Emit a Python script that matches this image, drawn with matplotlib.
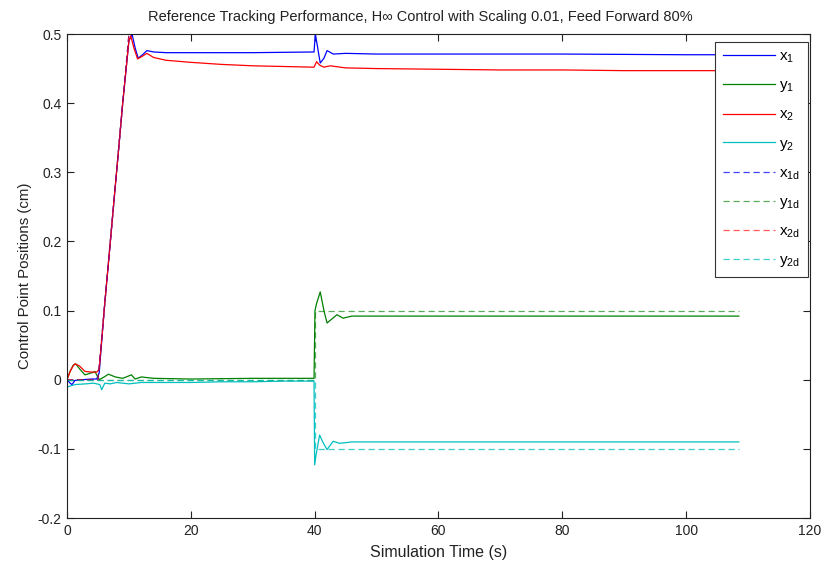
import matplotlib
matplotlib.use("Agg")
import matplotlib.pyplot as plt
from matplotlib.ticker import FuncFormatter

plt.rcParams['font.family'] = ['Liberation Sans', 'DejaVu Sans']
plt.rcParams['mathtext.fontset'] = 'custom'
plt.rcParams['mathtext.rm'] = 'Liberation Sans'

# Reference (desired) trajectories
t_xd = [0, 5, 10, 108.5]
x1d = [0, 0, 0.5, 0.5]
x2d = [0, 0, 0.5, 0.5]
t_yd = [0, 40, 40, 108.5]
y1d = [0, 0, 0.1, 0.1]
y2d = [0, 0, -0.1, -0.1]

# Measured control point positions
t_x1 = [0, 0.5, 0.8, 1.3, 2.5, 4, 4.8, 5.2, 6, 7, 8, 9, 10, 10.5, 11, 11.5,
        12.2, 12.9, 14, 16, 20, 30, 39.9, 40.1, 40.3, 40.9, 41.5, 42, 43, 45,
        50, 60, 80, 100, 108.5]
x1 = [0, -0.005, -0.007, -0.001, 0.0, 0.001, 0.001, 0.01, 0.1, 0.2, 0.3, 0.4,
      0.49, 0.5, 0.48, 0.465, 0.47, 0.476, 0.474, 0.473, 0.473, 0.473, 0.474,
      0.5, 0.49, 0.458, 0.465, 0.476, 0.471, 0.472, 0.471, 0.471, 0.471, 0.470,
      0.470]

t_x2 = [0, 0.5, 1.0, 1.3, 2, 2.9, 4, 4.8, 5.2, 6, 7, 8, 9, 10, 10.3, 10.8,
        11.4, 12.2, 12.9, 14, 16, 20, 25, 30, 35, 39.9, 40.3, 40.8, 41.5, 42.5,
        45, 50, 60, 70, 80, 90, 100, 108.5]
x2 = [0, 0.012, 0.02, 0.023, 0.02, 0.012, 0.011, 0.011, 0.015, 0.1, 0.2, 0.3,
      0.4, 0.49, 0.497, 0.48, 0.464, 0.468, 0.472, 0.466, 0.462, 0.459, 0.456,
      0.454, 0.453, 0.452, 0.46, 0.455, 0.452, 0.454, 0.451, 0.45, 0.449,
      0.448, 0.448, 0.447, 0.447, 0.447]

t_y1 = [0, 0.5, 1.0, 1.4, 2, 2.9, 4, 4.5, 5.2, 6, 6.7, 7.8, 9, 10.4, 11, 12,
        14, 20, 30, 39.9, 40.05, 40.3, 40.9, 41.5, 42, 42.8, 43.6, 44.6, 46,
        50, 60, 80, 100, 108.5]
y1 = [0, 0.012, 0.021, 0.023, 0.016, 0.007, 0.01, 0.012, 0.0, 0.004, 0.008,
      0.004, 0.002, 0.007, 0.001, 0.004, 0.002, 0.001, 0.002, 0.002, 0.1, 0.11,
      0.127, 0.1, 0.082, 0.088, 0.094, 0.089, 0.092, 0.092, 0.092, 0.092,
      0.092, 0.092]

t_y2 = [0, 0.2, 1.3, 3, 4.3, 5.3, 5.6, 6.1, 7, 8, 10, 12, 15, 20, 25, 30, 35,
        39.9, 40.0, 40.2, 40.8, 41.3, 42, 43, 44, 46, 50, 60, 80, 100, 108.5]
y2 = [-0.012, -0.01, -0.007, -0.006, -0.005, -0.007, -0.0145, -0.005, -0.006,
      -0.004, -0.006, -0.004, -0.004, -0.004, -0.003, -0.003, -0.002, -0.002,
      -0.123, -0.11, -0.08, -0.09, -0.101, -0.089, -0.092, -0.09, -0.09,
      -0.09, -0.09, -0.09, -0.09]

x_ticks = [0, 20, 40, 60, 80, 100, 120]
y_ticks = [-0.2, -0.1, 0, 0.1, 0.2, 0.3, 0.4, 0.5]

blue = '#0000ff'
green = '#008000'
red = '#ff0000'
cyan = '#00bfbf'

W, H = 826, 564
fig = plt.figure(figsize=(W / 100, H / 100), dpi=100)
ax = fig.add_axes([67 / W, 1 - 518 / H, (810 - 67) / W, (518 - 34) / H])

lw = 0.9
ax.plot(t_x1, x1, color=blue, lw=lw, label=r'$\mathregular{x_1}$')
ax.plot(t_y1, y1, color=green, lw=lw, label=r'$\mathregular{y_1}$')
ax.plot(t_x2, x2, color=red, lw=lw, label=r'$\mathregular{x_2}$')
ax.plot(t_y2, y2, color=cyan, lw=lw, label=r'$\mathregular{y_2}$')
dash = (0, (5, 3))
ax.plot(t_xd, x1d, color=blue, lw=lw, ls=dash, alpha=0.75, label=r'$\mathregular{x_{1d}}$')
ax.plot(t_yd, y1d, color=green, lw=lw, ls=dash, alpha=0.65, label=r'$\mathregular{y_{1d}}$')
ax.plot(t_xd, x2d, color=red, lw=lw, ls=dash, alpha=0.65, label=r'$\mathregular{x_{2d}}$')
ax.plot(t_yd, y2d, color=cyan, lw=lw, ls=dash, alpha=0.75, label=r'$\mathregular{y_{2d}}$')

ax.set_xlim(0, 120)
ax.set_ylim(-0.2, 0.5)
ax.set_xticks(x_ticks)
ax.set_yticks(y_ticks)
ax.yaxis.set_major_formatter(FuncFormatter(lambda v, p: '%g' % round(v, 2)))
ax.tick_params(direction='in', top=True, right=True, length=5, width=0.8,
               labelsize=10, colors='#222222', pad=4)
for s in ax.spines.values():
    s.set_linewidth(0.8)
    s.set_color('#222222')

fig.text(420 / W, 1 - 17 / H,
         'Reference Tracking Performance, H\u221e Control with Scaling 0.01, Feed Forward 80%',
         fontsize=10.5, color='#222222', ha='center', va='center')
ax.set_xlabel('Simulation Time (s)', fontsize=11.5, labelpad=5, color='#222222')
ax.set_ylabel('Control Point Positions (cm)', fontsize=10.8, labelpad=4, color='#222222')

leg = ax.legend(loc='upper right', bbox_to_anchor=(808 / W, 1 - 42 / H),
                bbox_transform=fig.transFigure, borderaxespad=0,
                fontsize=11, handlelength=3.4, handletextpad=0.3,
                labelspacing=0.88, fancybox=False, framealpha=1,
                edgecolor='#333333', borderpad=0.5)
leg.get_frame().set_linewidth(0.8)

fig.savefig('out.png', dpi=100)
